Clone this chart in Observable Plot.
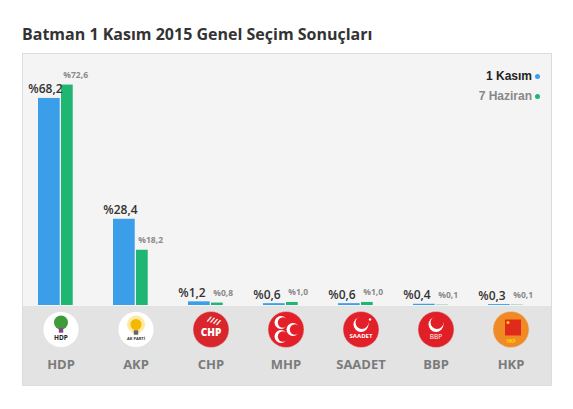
<!DOCTYPE html>
<html>
<head>
<meta charset="utf-8">
<script src="https://cdn.jsdelivr.net/npm/d3@7"></script>
<script src="https://cdn.jsdelivr.net/npm/@observablehq/plot@0.6"></script>
<style>
  html, body { margin: 0; padding: 0; background: #fff; }
  #wrap { position: relative; width: 573px; height: 409px; overflow: hidden; }
  #title { position: absolute; left: 22px; top: 23px; font: 700 16px "Open Sans", sans-serif; color: #333; white-space: nowrap; }
  #panel { position: absolute; left: 22px; top: 53px; width: 530px; height: 333px; box-sizing: border-box; border: 1px solid #dcdcdc; background: #f4f4f4; }
  #band { position: absolute; left: 0; right: 0; bottom: 0; height: 79px; background: #e3e3e3; }
  #chart { position: absolute; left: 0; top: 53px; }
  #legend { position: absolute; right: 33px; top: 66px; font: 700 12px "Liberation Sans", Arial, sans-serif; line-height: 20px; text-align: right; }
  #legend .dot { display: inline-block; width: 5px; height: 5px; border-radius: 50%; margin-left: 3px; vertical-align: 1px; }
</style>
</head>
<body>
<div id="wrap">
  <div id="title"></div>
  <div id="panel"><div id="band"></div></div>
  <div id="chart"></div>
  <div id="legend"></div>
</div>
<script>
// ---- data ----
const titleText = "Batman 1 Kasım 2015 Genel Seçim Sonuçları";
const parties = ["HDP", "AKP", "CHP", "MHP", "SAADET", "BBP", "HKP"];
const kasim = [68.2, 28.4, 1.2, 0.6, 0.6, 0.4, 0.3];     // 1 Kasım
const haziran = [72.6, 18.2, 0.8, 1.0, 1.0, 0.1, 0.1];  // 7 Haziran
const seriesNames = ["1 Kasım", "7 Haziran"];
const seriesColors = ["#3b9ee8", "#1fb573"];
const logoFills = ["#ffffff", "#ffffff", "#d9262c", "#e3202a", "#e3202a", "#e01f26", "#f08a24"];
const logoTexts = ["HDP", "AK PARTİ", "CHP", "", "SAADET", "BBP", "HKP"];

// ---- helpers ----
const fmt = v => "%" + v.toFixed(1).replace(".", ",");
const rows = parties.map((p, i) => ({party: p, kasim: kasim[i], haziran: haziran[i], fill: logoFills[i], logo: logoTexts[i]}));
const pick = names => rows.filter(d => names.includes(d.party));

document.getElementById("title").textContent = titleText;
document.getElementById("legend").innerHTML = seriesNames.map((s, i) =>
  `<div style="color:${i === 0 ? "#222" : "#888"}">${s}<span class="dot" style="background:${seriesColors[i]}"></span></div>`).join("");

const W = 573, H = 356, mL = 22, mR = 24, mB = 104;
const bw = (W - mL - mR) / parties.length;
const base = {x: "party", frameAnchor: "bottom"};
const LY = 24; // logo centre below baseline

const chart = Plot.plot({
  width: W, height: H,
  marginLeft: mL, marginRight: mR, marginTop: 0, marginBottom: mB,
  x: {domain: parties, padding: 0, axis: null},
  y: {domain: [0, 83], axis: null},
  color: {type: "identity"},
  style: {background: "transparent", overflow: "visible"},
  marks: [
    // bars
    Plot.barY(rows, {x: "party", y: "kasim", fill: seriesColors[0], insetLeft: 15, insetRight: bw - 37}),
    Plot.barY(rows, {x: "party", y: "haziran", fill: seriesColors[1], insetLeft: 38, insetRight: bw - 50}),
    // value labels
    Plot.text(rows, {x: "party", y: "kasim", text: d => fmt(d.kasim), textAnchor: "start", lineAnchor: "bottom",
      dx: 5 - bw / 2, dy: -5, fontSize: 12, fontWeight: 600, fill: "#333", fontFamily: "Open Sans"}),
    Plot.text(rows, {x: "party", y: "haziran", text: d => fmt(d.haziran), textAnchor: "start", lineAnchor: "bottom",
      dx: 40 - bw / 2, dy: -7, fontSize: 8.5, fontWeight: 700, fill: "#8a8a8a", fontFamily: "Open Sans"}),
    // logo circles
    Plot.dot(rows, {...base, dy: LY, r: 18, fill: "fill", stroke: "#d8d8d8", strokeWidth: 0.5}),
    // HDP tree
    Plot.dot(pick(["HDP"]), {...base, dy: LY - 7, r: 7, fill: "#3f9b3a"}),
    Plot.dot(pick(["HDP"]), {...base, dy: LY + 1, r: 2.5, symbol: "square", fill: "#8b3f96"}),
    // AKP bulb
    Plot.dot(pick(["AKP"]), {...base, dy: LY - 5, r: 9, fill: "#fde9a0"}),
    Plot.dot(pick(["AKP"]), {...base, dy: LY - 5, r: 5.5, fill: "#f5b800"}),
    Plot.dot(pick(["AKP"]), {...base, dy: LY + 3, r: 2.5, symbol: "square", fill: "#666"}),
    // crescents (SAADET, BBP)
    Plot.dot(pick(["SAADET", "BBP"]), {...base, dy: LY - 5, r: 7.5, fill: "#fff"}),
    Plot.dot(pick(["SAADET", "BBP"]), {...base, dy: LY - 7, dx: 1, r: 6.5, fill: "fill"}),
    Plot.dot(pick(["SAADET"]), {...base, dy: LY - 10, dx: 9, r: 1.2, fill: "#fff"}),
    // MHP three crescents
    Plot.dot(pick(["MHP"]), {...base, dy: LY - 7, dx: -5, r: 6.5, fill: "#fff"}),
    Plot.dot(pick(["MHP"]), {...base, dy: LY - 7, dx: -3, r: 5.2, fill: "fill"}),
    Plot.dot(pick(["MHP"]), {...base, dy: LY + 7, dx: -5, r: 6.5, fill: "#fff"}),
    Plot.dot(pick(["MHP"]), {...base, dy: LY + 7, dx: -3, r: 5.2, fill: "fill"}),
    Plot.dot(pick(["MHP"]), {...base, dy: LY, dx: 7, r: 6.5, fill: "#fff"}),
    Plot.dot(pick(["MHP"]), {...base, dy: LY, dx: 9, r: 5.2, fill: "fill"}),
    // CHP rays
    Plot.text(pick(["CHP"]), {...base, dy: LY - 6, dx: 2, text: () => "////", fontSize: 8, fontWeight: 700, fill: "#fff", rotate: 20}),
    // HKP flag
    Plot.dot(pick(["HKP"]), {...base, dy: LY - 2, dx: 2, r: 9, symbol: "square", fill: "#e02a1c"}),
    Plot.dot(pick(["HKP"]), {...base, dy: LY - 7, dx: -3, r: 1.5, fill: "#ffd400"}),
    // logo texts
    Plot.text(pick(["HDP"]), {...base, dy: LY + 10, text: "logo", fontSize: 6.5, fontWeight: 700, fill: "#222", fontFamily: "Open Sans"}),
    Plot.text(pick(["AKP"]), {...base, dy: LY + 10, text: "logo", fontSize: 4, fontWeight: 700, fill: "#333", fontFamily: "Open Sans"}),
    Plot.text(pick(["CHP"]), {...base, dy: LY + 6, text: "logo", fontSize: 10, fontWeight: 800, fill: "#fff", fontFamily: "Open Sans"}),
    Plot.text(pick(["SAADET"]), {...base, dy: LY + 8, text: "logo", fontSize: 6, fontWeight: 700, fill: "#fff", fontFamily: "Open Sans"}),
    Plot.text(pick(["BBP"]), {...base, dy: LY + 9, text: "logo", fontSize: 6.5, fill: "#fff", fontFamily: "Open Sans"}),
    Plot.text(pick(["HKP"]), {...base, dy: LY + 13, text: "logo", fontSize: 4.5, fontWeight: 700, fill: "#ffd400", fontFamily: "Open Sans"}),
    // party names
    Plot.text(parties, {x: d => d, frameAnchor: "bottom", text: d => d, lineAnchor: "bottom", dy: 63,
      fontSize: 13, fontWeight: 700, fill: "#7b7b7b", fontFamily: "Open Sans"})
  ]
});
document.getElementById("chart").appendChild(chart);
</script>
</body>
</html>
